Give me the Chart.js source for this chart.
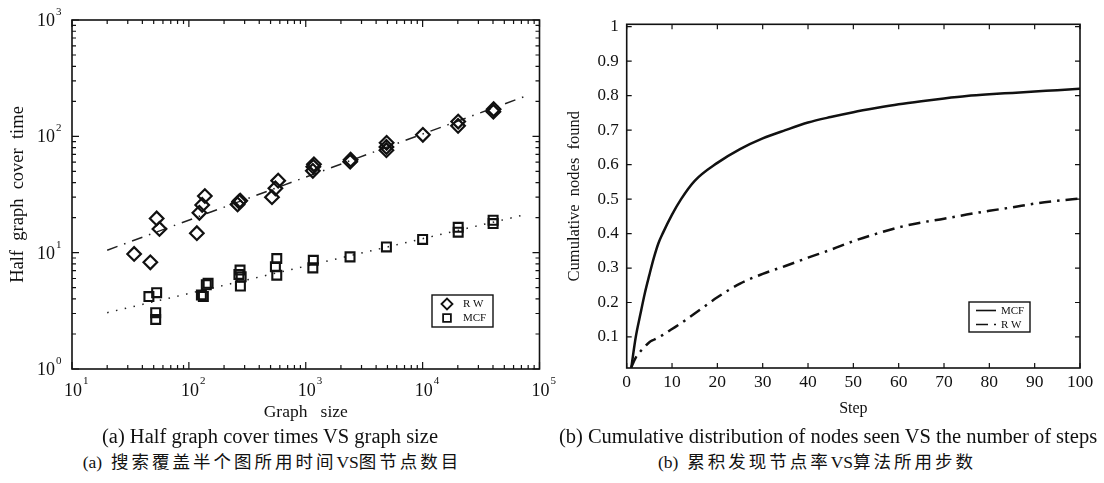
<!DOCTYPE html>
<html>
<head>
<meta charset="utf-8">
<script src="https://cdn.jsdelivr.net/npm/chart.js@4.4.1/dist/chart.umd.min.js"></script>
<style>
  body { margin: 0; background: #fff; width: 1104px; height: 483px; overflow: hidden; position: relative; }
  canvas { position: absolute; top: 0; }
  #left { left: 0; }
  #right { left: 550px; }
  .cap { position: absolute; white-space: nowrap; color: #111; transform: translate(-50%, -50%);
         font-family: "Liberation Serif", "Noto Sans CJK SC", serif; line-height: 1; }
  .zh span { letter-spacing: 3px; }
</style>
</head>
<body>
<canvas id="left" width="580" height="425"></canvas>
<canvas id="right" width="554" height="425"></canvas>
<div class="cap" style="left:270px; top:436px; font-size:20.5px;">(a) Half graph cover times VS graph size</div>
<div class="cap" style="left:828px; top:436px; font-size:20.5px;">(b) Cumulative distribution of nodes seen VS the number of steps</div>
<div class="cap zh" style="left:272px; top:463px; font-size:17.5px;">(a)&nbsp; <span>搜索覆盖半个图所用时间</span>VS<span>图节点数目</span></div>
<div class="cap zh" style="left:817px; top:463px; font-size:17.5px;">(b)&nbsp; <span>累积发现节点率</span>VS<span>算法所用步数</span></div>
<script>
const serif = '"Liberation Serif", "Times New Roman", serif';
const ink = '#111';

// (a) half graph cover time vs graph size (log-log)
const rwSize  = [34, 46.8, 53, 56, 117, 123, 130, 137, 261, 269, 275, 514, 550, 581, 1150, 1161, 1175, 2400, 2420, 4900, 4900, 4920, 10050, 20100, 20150, 40300, 40500];
const rwTime  = [9.75, 8.26, 19.7, 16.0, 14.7, 22, 25.7, 30.7, 26, 27.5, 28, 30, 35.7, 41.6, 50.5, 54.8, 57.5, 60.5, 63, 76, 81, 88, 103, 123, 134, 163, 171];
const mcfSize = [45.5, 53, 52, 52, 128, 133, 141, 146, 268, 274, 276, 280, 550, 565, 565, 1150, 1161, 2393, 4900, 10000, 20150, 20150, 40100, 40100];
const mcfTime = [4.19, 4.53, 3.05, 2.67, 4.33, 4.2, 5.3, 5.45, 6.5, 7.08, 5.16, 6.2, 7.57, 8.9, 6.4, 7.4, 8.6, 9.2, 11.2, 13, 15, 16.5, 17.8, 19];
const fitSize    = [20, 73600];
const rwFitTime  = [10.5, 219];
const mcfFitTime = [3.05, 21.1];
const xExp = [1, 2, 3, 4, 5];
const yExp = [0, 1, 2, 3];

// (b) cumulative nodes found vs step
const steps    = [1, 2, 3, 4, 5, 6, 7, 8, 10, 12, 15, 20, 25, 30, 35, 40, 45, 50, 55, 60, 65, 70, 75, 80, 85, 90, 95, 100];
const mcfFound = [0.01, 0.1, 0.165, 0.227, 0.28, 0.33, 0.372, 0.402, 0.455, 0.5, 0.553, 0.605, 0.645, 0.676, 0.70, 0.722, 0.738, 0.752, 0.764, 0.775, 0.784, 0.792, 0.799, 0.804, 0.808, 0.812, 0.816, 0.82];
const rwFound  = [0.012, 0.04, 0.058, 0.072, 0.085, 0.092, 0.099, 0.106, 0.123, 0.14, 0.168, 0.215, 0.255, 0.283, 0.306, 0.33, 0.353, 0.378, 0.399, 0.418, 0.432, 0.443, 0.455, 0.466, 0.476, 0.487, 0.495, 0.502];
const stepTicks  = [0, 10, 20, 30, 40, 50, 60, 70, 80, 90, 100];
const foundTicks = [0.1, 0.2, 0.3, 0.4, 0.5, 0.6, 0.7, 0.8, 0.9, 1];

const pts = (xs, ys) => xs.map((x, i) => ({ x: x, y: ys[i] }));

function decades(exps) {
  const major = exps.map(e => Math.pow(10, e));
  const minor = [];
  for (let i = 0; i < major.length - 1; i++)
    for (let k = 2; k <= 9; k++) minor.push(k * major[i]);
  return { major, minor };
}

// frame with inward ticks on all four sides
const boxPlugin = {
  id: 'boxPlugin',
  afterDatasetsDraw(chart, args, o) {
    const { ctx, chartArea: a, scales } = chart;
    ctx.save();
    ctx.strokeStyle = ink;
    ctx.lineWidth = 1.2;
    ctx.beginPath();
    const xt = (vals, len) => vals.forEach(v => {
      const p = scales.x.getPixelForValue(v);
      ctx.moveTo(p, a.bottom); ctx.lineTo(p, a.bottom - len);
      ctx.moveTo(p, a.top); ctx.lineTo(p, a.top + len);
    });
    const yt = (vals, len) => vals.forEach(v => {
      const p = scales.y.getPixelForValue(v);
      ctx.moveTo(a.left, p); ctx.lineTo(a.left + len, p);
      ctx.moveTo(a.right, p); ctx.lineTo(a.right - len, p);
    });
    xt(o.xMajor, o.major); xt(o.xMinor || [], o.minor);
    yt(o.yMajor, o.major); yt(o.yMinor || [], o.minor);
    ctx.stroke();
    ctx.lineWidth = 1.6;
    ctx.strokeRect(a.left, a.top, a.right - a.left, a.bottom - a.top);
    ctx.restore();
  }
};

// "10" with a raised exponent for the log axes
const powLabels = {
  id: 'powLabels',
  afterDraw(chart, args, o) {
    if (!o.on) return;
    const { ctx, chartArea: a, scales } = chart;
    ctx.save();
    ctx.fillStyle = ink;
    ctx.textBaseline = 'alphabetic';
    xExp.forEach(e => {
      const p = scales.x.getPixelForValue(Math.pow(10, e));
      ctx.font = '18px ' + serif;
      ctx.textAlign = 'center';
      ctx.fillText('10', p + 1, a.bottom + 27);
      ctx.font = '11px ' + serif;
      ctx.textAlign = 'left';
      ctx.fillText(String(e), p + 11, a.bottom + 15);
    });
    yExp.forEach(e => {
      const p = scales.y.getPixelForValue(Math.pow(10, e));
      ctx.font = '18px ' + serif;
      ctx.textAlign = 'right';
      ctx.fillText('10', a.left - 17, p + 6);
      ctx.font = '11px ' + serif;
      ctx.textAlign = 'left';
      ctx.fillText(String(e), a.left - 16, p - 5);
    });
    ctx.restore();
  }
};

// boxed key inside the plot
const keyPlugin = {
  id: 'keyPlugin',
  afterDraw(chart, args, o) {
    const ctx = chart.ctx;
    ctx.save();
    ctx.fillStyle = '#fff';
    ctx.fillRect(o.x, o.y, o.w, o.h);
    ctx.strokeStyle = ink;
    ctx.lineWidth = 1.4;
    ctx.strokeRect(o.x, o.y, o.w, o.h);
    ctx.font = '11px ' + serif;
    ctx.textBaseline = 'middle';
    ctx.textAlign = 'left';
    o.items.forEach((it, i) => {
      const ds = chart.data.datasets[it];
      const y = o.y + o.first + i * o.gap;
      ctx.strokeStyle = ink;
      if (ds.showLine) {
        ctx.lineWidth = 1.6;
        ctx.setLineDash(ds.borderDash || []);
        ctx.beginPath();
        ctx.moveTo(o.x + o.mark, y); ctx.lineTo(o.x + o.mark + o.len, y);
        ctx.stroke();
        ctx.setLineDash([]);
      } else {
        ctx.fillStyle = 'rgba(0,0,0,0)';
        ctx.lineWidth = 1.8;
        Chart.helpers.drawPoint(ctx, { pointStyle: ds.pointStyle, radius: o.r, borderWidth: 1.8, rotation: 0 }, o.x + o.mark, y);
      }
      ctx.fillStyle = ink;
      ctx.fillText(ds.label, o.x + o.text, y + 0.5);
    });
    ctx.restore();
  }
};

const xd = decades(xExp), yd = decades(yExp);

new Chart(document.getElementById('left'), {
  type: 'scatter',
  data: {
    datasets: [
      { label: 'R W', data: pts(rwSize, rwTime), pointStyle: 'rectRot', pointRadius: 6.8,
        borderColor: ink, borderWidth: 2.2, backgroundColor: 'rgba(0,0,0,0)' },
      { label: 'MCF', data: pts(mcfSize, mcfTime), pointStyle: 'rect', pointRadius: 6.3,
        borderColor: ink, borderWidth: 2.1, backgroundColor: 'rgba(0,0,0,0)' },
      { label: 'R W fit', data: pts(fitSize, rwFitTime), showLine: true, pointRadius: 0,
        borderColor: '#222', borderWidth: 1.5, borderDash: [11, 7, 1.5, 7] },
      { label: 'MCF fit', data: pts(fitSize, mcfFitTime), showLine: true, pointRadius: 0,
        borderColor: '#222', borderWidth: 1.5, borderDash: [1.5, 7.5] }
    ]
  },
  options: {
    responsive: false,
    animation: false,
    layout: { padding: { left: 0, right: 40.5, top: 20, bottom: 0 } },
    plugins: {
      legend: { display: false },
      tooltip: { enabled: false },
      boxPlugin: { xMajor: xd.major, xMinor: xd.minor, yMajor: yd.major, yMinor: yd.minor, major: 7, minor: 4 },
      powLabels: { on: true },
      keyPlugin: { x: 432, y: 295, w: 61, h: 32, first: 9, gap: 14, mark: 15, r: 5.5, text: 31, items: [0, 1] }
    },
    scales: {
      x: {
        type: 'logarithmic', min: 10, max: 100000,
        grid: { display: false, drawTicks: false }, border: { display: false },
        ticks: { display: false },
        title: { display: true, text: 'Graph   size', color: ink, font: { family: serif, size: 17.5 }, padding: { top: 0, bottom: 2 } },
        afterFit: s => { s.height = 56; }
      },
      y: {
        type: 'logarithmic', min: 1, max: 1000,
        grid: { display: false, drawTicks: false }, border: { display: false },
        ticks: { display: false },
        title: { display: true, text: 'Half  graph  cover  time', color: ink, font: { family: serif, size: 18.5 }, padding: { top: 7, bottom: 0 } },
        afterFit: s => { s.width = 72; }
      }
    }
  },
  plugins: [boxPlugin, powLabels, keyPlugin]
});

new Chart(document.getElementById('right'), {
  type: 'scatter',
  data: {
    datasets: [
      { label: 'MCF', data: pts(steps, mcfFound), showLine: true, pointRadius: 0,
        borderColor: ink, borderWidth: 2.5, cubicInterpolationMode: 'monotone' },
      { label: 'R W', data: pts(steps, rwFound), showLine: true, pointRadius: 0,
        borderColor: ink, borderWidth: 2.5, borderDash: [12, 6, 2.5, 6], cubicInterpolationMode: 'monotone' }
    ]
  },
  options: {
    responsive: false,
    animation: false,
    layout: { padding: { left: 0, right: 24, top: 24.3, bottom: 0 } },
    plugins: {
      legend: { display: false },
      tooltip: { enabled: false },
      boxPlugin: { xMajor: stepTicks, yMajor: foundTicks, major: 5, minor: 3 },
      powLabels: { on: false },
      keyPlugin: { x: 419, y: 302, w: 61, h: 30, first: 8.5, gap: 14, mark: 7, len: 20, text: 32, items: [0, 1] }
    },
    scales: {
      x: {
        type: 'linear', min: 0, max: 100,
        afterBuildTicks: s => { s.ticks = stepTicks.map(v => ({ value: v })); },
        grid: { display: false, drawTicks: false }, border: { display: false },
        ticks: { color: ink, font: { family: serif, size: 17.5 }, padding: 4 },
        title: { display: true, text: 'Step', color: ink, font: { family: serif, size: 16 }, padding: { top: 0, bottom: 7 } },
        afterFit: s => { s.height = 57; }
      },
      y: {
        type: 'linear', min: 0.01, max: 1.007,
        afterBuildTicks: s => { s.ticks = foundTicks.map(v => ({ value: v })); },
        grid: { display: false, drawTicks: false }, border: { display: false },
        ticks: { color: ink, font: { family: serif, size: 17 }, padding: 8,
                 callback: v => (v >= 1 ? '1' : v.toFixed(1)) },
        title: { display: true, text: 'Cumulative  nodes  found', color: ink, font: { family: serif, size: 16.5 }, padding: { top: 15, bottom: 0 } },
        afterFit: s => { s.width = 76.7; }
      }
    }
  },
  plugins: [boxPlugin, keyPlugin]
});
</script>
</body>
</html>
